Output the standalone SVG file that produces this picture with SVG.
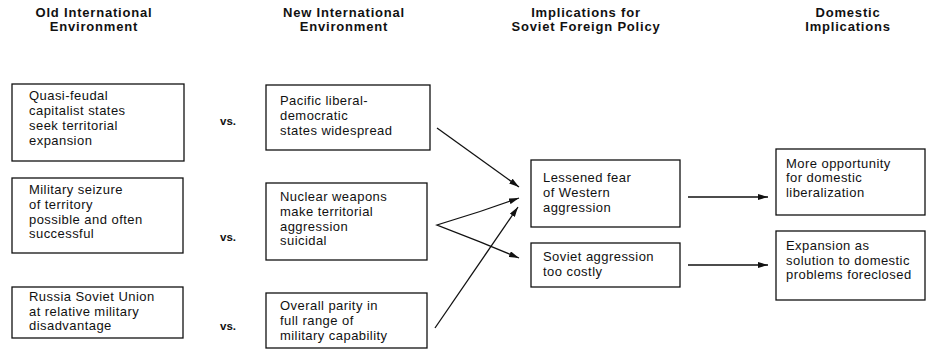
<svg xmlns="http://www.w3.org/2000/svg" width="936" height="358" viewBox="0 0 936 358">
<defs>
<marker id="ah" viewBox="0 0 10 6" refX="10" refY="3" markerWidth="10" markerHeight="6" markerUnits="userSpaceOnUse" orient="auto">
<path d="M0,0 L10,3 L0,6 z" fill="#111"/>
</marker>
<style>
.hd{font-family:"Liberation Sans",Arial,sans-serif;font-size:13px;font-weight:bold;fill:#111;text-anchor:middle;letter-spacing:0.8px}
.tx{font-family:"Liberation Sans",Arial,sans-serif;font-size:13px;fill:#111;letter-spacing:0.45px}
.vs{font-family:"Liberation Sans",Arial,sans-serif;font-size:11.5px;font-weight:bold;fill:#111}
.bx{fill:#fff;stroke:#111;stroke-width:1.3}
.cn{stroke:#111;stroke-width:1.3;fill:none;marker-end:url(#ah)}
.ln{stroke:#111;stroke-width:1.3;fill:none}
</style>
</defs>
<rect width="936" height="358" fill="#fff"/>
<g id="headers">
<text class="hd" x="94" y="17">Old International</text>
<text class="hd" x="94" y="31">Environment</text>
<text class="hd" x="344" y="17">New International</text>
<text class="hd" x="344" y="31">Environment</text>
<text class="hd" x="586" y="17">Implications for</text>
<text class="hd" x="586" y="31">Soviet Foreign Policy</text>
<text class="hd" x="848" y="17">Domestic</text>
<text class="hd" x="848" y="31">Implications</text>
</g>
<g id="old1">
<rect class="bx" x="12" y="84" width="172" height="77"/>
<text class="tx" x="29" y="100">Quasi-feudal</text>
<text class="tx" x="29" y="115">capitalist states</text>
<text class="tx" x="29" y="130">seek territorial</text>
<text class="tx" x="29" y="145">expansion</text>
</g>
<g id="old2">
<rect class="bx" x="12" y="178" width="171" height="75"/>
<text class="tx" x="29" y="194">Military seizure</text>
<text class="tx" x="29" y="209">of territory</text>
<text class="tx" x="29" y="224">possible and often</text>
<text class="tx" x="29" y="238">successful</text>
</g>
<g id="old3">
<rect class="bx" x="12" y="287" width="171" height="51"/>
<text class="tx" x="29" y="301">Russia Soviet Union</text>
<text class="tx" x="29" y="316">at relative military</text>
<text class="tx" x="29" y="330">disadvantage</text>
</g>
<g id="vs">
<text class="vs" x="220" y="125">vs.</text>
<text class="vs" x="220" y="241">vs.</text>
<text class="vs" x="220" y="330">vs.</text>
</g>
<g id="new1">
<rect class="bx" x="266" y="85" width="164" height="65"/>
<text class="tx" x="280" y="105">Pacific liberal-</text>
<text class="tx" x="280" y="120">democratic</text>
<text class="tx" x="280" y="135">states widespread</text>
</g>
<g id="new2">
<rect class="bx" x="266" y="183" width="161" height="77"/>
<text class="tx" x="280" y="201">Nuclear weapons</text>
<text class="tx" x="280" y="216">make territorial</text>
<text class="tx" x="280" y="231">aggression</text>
<text class="tx" x="280" y="245">suicidal</text>
</g>
<g id="new3">
<rect class="bx" x="266" y="293" width="161" height="55"/>
<text class="tx" x="280" y="310">Overall parity in</text>
<text class="tx" x="280" y="325">full range of</text>
<text class="tx" x="280" y="340">military capability</text>
</g>
<g id="imp1">
<rect class="bx" x="531" y="160" width="149" height="67"/>
<text class="tx" x="543" y="182">Lessened fear</text>
<text class="tx" x="543" y="197">of Western</text>
<text class="tx" x="543" y="212">aggression</text>
</g>
<g id="imp2">
<rect class="bx" x="531" y="243" width="149" height="44"/>
<text class="tx" x="543" y="261">Soviet aggression</text>
<text class="tx" x="543" y="276">too costly</text>
</g>
<g id="dom1">
<rect class="bx" x="776" y="149" width="149" height="66"/>
<text class="tx" x="786" y="168">More opportunity</text>
<text class="tx" x="786" y="182">for domestic</text>
<text class="tx" x="786" y="197">liberalization</text>
</g>
<g id="dom2">
<rect class="bx" x="776" y="231" width="149" height="69"/>
<text class="tx" x="786" y="250">Expansion as</text>
<text class="tx" x="786" y="265">solution to domestic</text>
<text class="tx" x="786" y="279">problems foreclosed</text>
</g>
<g id="connectors">
<line class="cn" x1="437" y1="128" x2="519" y2="187"/>
<polyline class="ln" points="480,211.5 437,225 480,241.8"/>
<line class="cn" x1="480" y1="211.5" x2="519" y2="198"/>
<line class="cn" x1="480" y1="241.8" x2="519" y2="258"/>
<line class="cn" x1="435" y1="328" x2="518" y2="207"/>
<line class="cn" x1="688" y1="197" x2="768" y2="197"/>
<line class="cn" x1="688" y1="265" x2="768" y2="265"/>
</g>
</svg>
